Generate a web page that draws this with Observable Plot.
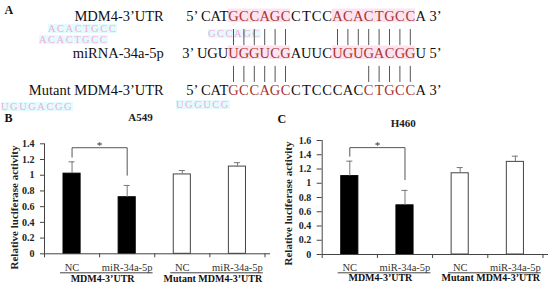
<!DOCTYPE html>
<html><head><meta charset="utf-8">
<script src="https://cdn.jsdelivr.net/npm/d3@7"></script>
<script src="https://cdn.jsdelivr.net/npm/@observablehq/plot@0.6"></script>
<style>
html,body{margin:0;padding:0;background:#fff;}
#fig{position:relative;width:550px;height:286px;overflow:hidden;font-family:"Liberation Serif","Times New Roman",serif;}
.panel{position:absolute;}
.panel svg{display:block;overflow:visible;font-family:"Liberation Serif","Times New Roman",serif;}
.ghost{position:absolute;background:#e3fbfc;color:#f3aadf;font-size:10.5px;line-height:9px;height:9px;white-space:nowrap;letter-spacing:1.5px;}
</style></head>
<body><div id="fig">
<div class="ghost" style="left:48px;top:24px">ACACTGCC</div>
<div class="ghost" style="left:39px;top:35px">ACACTGCC</div>
<div class="ghost" style="left:208px;top:29px">GCCAGC</div>
<div class="ghost" style="left:176px;top:100px">UGGUCG</div>
<div class="ghost" style="left:1px;top:102px">UGUGACGG</div>
<div class="panel" id="pa" style="left:0;top:0"></div><div class="panel" id="pb" style="left:0;top:100px"></div><div class="panel" id="pc" style="left:275px;top:100px"></div></div>
<script>
// ---------- Panel A data (sequence alignment) ----------
const seqRowLabels = ["MDM4-3’UTR", "miRNA-34a-5p", "Mutant MDM4-3’UTR"];
const seqPrefix = ["5’ CAT", "3’ UGU", "5’ CAT"];
const seqCore = ["GCCAGCCTCCACACTGCCA", "UGGUCGAUUCUGUGACGGU", "GCCAGCCTCCCACCTGCCA"];
const seqSuffix = ["3’", "5’", "3’"];
const seqSeedRanges = [[[0, 5], [10, 17]], [[0, 5], [10, 17]], [[0, 5], [13, 17]]];
const seqShadedRows = [0, 1];
const pairsTop = [0, 1, 2, 3, 4, 5, 10, 11, 12, 13, 14, 15, 16, 17];
const pairsBottom = [0, 1, 2, 3, 4, 5, 13, 14, 15, 16, 17];

// ---------- Panels B / C data ----------
const categories = ["NC", "miR-34a-5p", "NC", "miR-34a-5p"];
const groups = ["MDM4-3’UTR", "Mutant MDM4-3’UTR"];
const a549Values = [1.02, 0.72, 1.01, 1.11];
const a549Errors = [0.15, 0.15, 0.05, 0.05];
const a549Ticks = [0, 0.2, 0.4, 0.6, 0.8, 1, 1.2, 1.4];
const a549Bracket = [1.23, 1.35, 1.0]; // left leg end, bar height, right leg end
const h460Values = [1.10, 0.69, 1.14, 1.30];
const h460Errors = [0.21, 0.21, 0.08, 0.08];
const h460Ticks = [0, 0.2, 0.4, 0.6, 0.8, 1, 1.2, 1.4, 1.6];
const h460Bracket = [1.38, 1.5, 1.05];

const SERIF = '"Liberation Serif", "Times New Roman", serif';
const RED = "#a8352f", PINK = "#fde2ef";

// ---------- Panel A ----------
const chars = [];
seqCore.forEach((s, r) => {
  [...s].forEach((ch, i) => {
    const red = seqSeedRanges[r].some(([a, b]) => i >= a && i <= b);
    chars.push({r, i, ch, red});
  });
});
const shades = [];
seqShadedRows.forEach(r => seqSeedRanges[r].forEach(([a, b]) => shades.push({r, a, b})));
const pairLines = [
  ...pairsTop.map(i => ({i, r: 0})),
  ...pairsBottom.map(i => ({i, r: 1}))
];
const tA = {fontFamily: SERIF, fontSize: 14.5, lineAnchor: "bottom", fill: "#111"};

const panelA = Plot.plot({
  width: 550, height: 105, margin: 0,
  x: {type: "linear", domain: [0, 18], range: [233, 233 + 10.4 * 18], axis: null},
  y: {type: "linear", domain: [0, 2], range: [20.7, 94.5], axis: null},
  style: {fontFamily: SERIF, fontSize: "14.5px", color: "#111", background: "transparent", overflow: "visible"},
  marks: [
    Plot.rect(shades, {x1: d => d.a - 0.5, x2: d => d.b + 0.5, y1: d => d.r - 0.33, y2: d => d.r + 0.04, fill: PINK}),
    Plot.ruleX(pairLines, {x: "i", y1: d => d.r + 0.225, y2: d => d.r + 0.66, stroke: "#555", strokeWidth: 1}),
    Plot.text(chars, {...tA, x: "i", y: "r", text: "ch", fill: d => d.red ? RED : "#111", textAnchor: "middle"}),
    Plot.text(seqPrefix, {...tA, x: -0.5, y: (d, i) => i, text: d => d, textAnchor: "end"}),
    Plot.text(seqSuffix, {...tA, x: 18.5, y: (d, i) => i, dx: 3.6, text: d => d, textAnchor: "start"}),
    Plot.text(seqRowLabels, {...tA, x: -0.5, y: (d, i) => i, dx: -64.5, text: d => d, textAnchor: "end"}),
    Plot.text(["A"], {...tA, frameAnchor: "top-left", dx: 4, dy: 13.3, textAnchor: "start", fontWeight: "bold", fontSize: 12})
  ]
});
document.getElementById("pa").append(panelA);

// ---------- Bar panels ----------
function barPanel(o) {
  const rows = categories.map((c, i) => ({i, c, g: Math.floor(i / 2), v: o.values[i], e: o.errors[i]}));
  const half = 0.155, cap = 0.055;
  const [legL, top, legR] = o.bracket;
  const br = [{x: 0.5, y: legL}, {x: 0.5, y: top}, {x: 1.5, y: top}, {x: 1.5, y: legR}];
  const ticksMax = o.ticks[o.ticks.length - 1];
  const t = {fontFamily: SERIF};
  return Plot.plot({
    width: 275, height: 186,
    marginLeft: o.ml, marginRight: o.mr, marginTop: o.mt, marginBottom: o.mb,
    x: {type: "linear", domain: [0, 4.1], axis: null},
    y: {type: "linear", domain: [0, ticksMax], axis: null},
    style: {fontFamily: SERIF, fontSize: "10.5px", color: "#222", background: "transparent", overflow: "visible"},
    marks: [
      Plot.rect(rows, {x1: d => d.i + 0.5 - half, x2: d => d.i + 0.5 + half, y1: 0, y2: "v",
        fill: d => d.g ? "#fff" : "#000", stroke: d => d.g ? "#444" : "#000", strokeWidth: 1}),
      Plot.ruleX(rows, {x: d => d.i + 0.5, y1: "v", y2: d => d.v + d.e, stroke: "#777"}),
      Plot.ruleY(rows, {y: d => d.v + d.e, x1: d => d.i + 0.5 - cap, x2: d => d.i + 0.5 + cap, stroke: "#777"}),
      Plot.line(br, {x: "x", y: "y", stroke: "#555", strokeWidth: 1}),
      Plot.text(["*"], {...t, x: 1, y: top, dy: 1.5, text: d => d, lineAnchor: "bottom", fontSize: 11, fill: "#333"}),
      Plot.ruleX([0], {stroke: "#444"}),
      Plot.ruleY([0], {stroke: "#444"}),
      Plot.axisY({...t, ticks: o.ticks, tickSize: o.tickSize, tickPadding: o.tickPad, tickFormat: d3.format("~g"), label: null,
        fontWeight: "bold", fontSize: 10, stroke: "#444", fill: "#222"}),
      Plot.axisX({...t, ticks: [0, 1, 2, 3, 4], tickSize: 4, tickFormat: () => "", label: null, stroke: "#444"}),
      Plot.text(rows, {...t, x: d => d.i + 0.5, y: 0, dy: o.catDy, text: "c", lineAnchor: "bottom", fontSize: 10.5, fill: "#333"}),
      Plot.ruleY(groups, {y: 0, x1: (d, j) => 2 * j + 0.29, x2: (d, j) => 2 * j + 1.97, dy: o.lineDy, stroke: "#444"}),
      Plot.text(groups, {...t, x: (d, j) => 2 * j + 1, y: 0, dx: 3, dy: o.groupDy, text: d => d, lineAnchor: "bottom", fontWeight: "bold", fontSize: 10, fill: "#111"}),
      Plot.text([o.title], {...t, frameAnchor: "top", dx: o.titleDx, dy: o.titleDy, text: d => d, lineAnchor: "bottom", fontWeight: "bold", fontSize: 11, fill: "#222"}),
      Plot.text([o.letter], {...t, frameAnchor: "top-left", dx: o.letterDx, dy: o.letterDy, text: d => d, textAnchor: "start", lineAnchor: "bottom", fontWeight: "bold", fontSize: 12, fill: "#111"}),
      Plot.text(["Relative luciferase activity"], {...t, frameAnchor: "left", rotate: -90, dx: o.labDx, dy: o.labDy, text: d => d,
        textAnchor: "middle", fontWeight: "bold", fontSize: 11, fill: "#222"})
    ]
  });
}

document.getElementById("pb").append(barPanel({
  values: a549Values, errors: a549Errors, ticks: a549Ticks, bracket: a549Bracket,
  title: "A549", letter: "B",
  ml: 44, mr: 5, mt: 43.3, mb: 32.7, tickSize: 4, tickPad: 6,
  catDy: 16.7, lineDy: 19, groupDy: 27.7,
  titleDx: -17, titleDy: -22.6, letterDx: -40, letterDy: -21.6, labDx: -30, labDy: 8.7
}));
document.getElementById("pc").append(barPanel({
  values: h460Values, errors: h460Errors, ticks: h460Ticks, bracket: h460Bracket,
  title: "H460", letter: "C",
  ml: 46.7, mr: 2, mt: 40, mb: 32, tickSize: 5, tickPad: 6,
  catDy: 16, lineDy: 18.3, groupDy: 26.7,
  titleDx: -32, titleDy: -14, letterDx: -44.7, letterDy: -18, labDx: -33.7, labDy: 6
}));
</script>
</body></html>
